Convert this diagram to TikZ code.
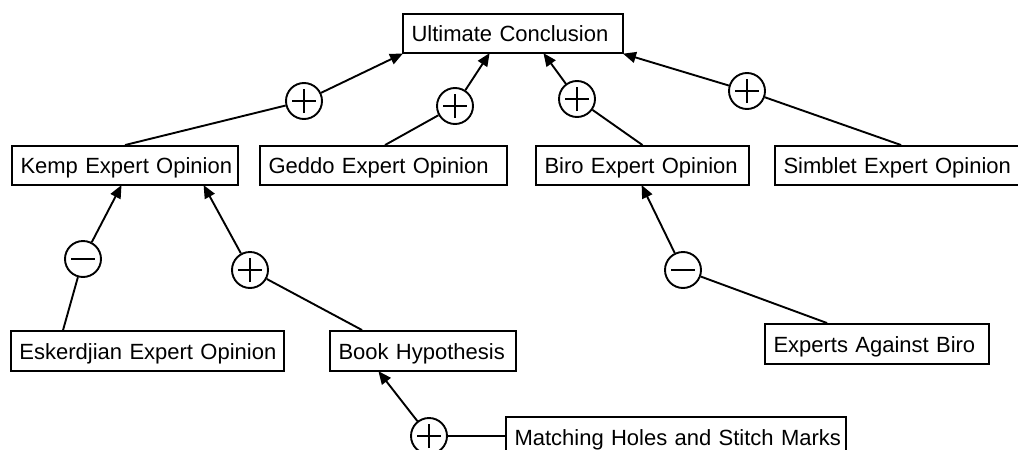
\documentclass[tikz,border=0pt]{standalone}
\usepackage{fontspec}
\setmainfont{Liberation Sans}
\usetikzlibrary{arrows.meta,calc}
\tikzset{
  argbox/.style={draw, line width=1.9pt, fill=white, inner xsep=8.5pt, inner ysep=0pt,
    minimum height=39pt, text height=16pt, text depth=0pt, align=left,
    font=\fontsize{22}{26}\selectfont},
  sign/.style={draw, circle, line width=1.9pt, fill=white, minimum size=36pt, inner sep=0pt},
  plus/.style={sign, path picture={
    \draw[line width=2.2pt] ([xshift=-12pt]path picture bounding box.center) -- ([xshift=12pt]path picture bounding box.center);
    \draw[line width=2.2pt] ([yshift=-12pt]path picture bounding box.center) -- ([yshift=12pt]path picture bounding box.center);}},
  minus/.style={sign, path picture={
    \draw[line width=2.2pt] ([xshift=-12pt]path picture bounding box.center) -- ([xshift=12pt]path picture bounding box.center);}},
  link/.style={line width=1.9pt},
  arr/.style={line width=1.9pt, -{Triangle[length=13pt,width=11pt]}, shorten >=-1pt},
}
\begin{document}
\begin{tikzpicture}[x=1pt,y=-1pt]
\useasboundingbox (0,0) rectangle (1018,450);
\clip (0,0) rectangle (1018,450);
% boxes
\node[argbox, text width=203pt] (uc) at (513,33.5) {\mbox{Ultimate Conclusion}};
\node[argbox, text width=209pt] (kemp) at (125,165.5) {\mbox{Kemp Expert Opinion}};
\node[argbox, text width=230pt] (geddo) at (383.5,165.5) {\mbox{Geddo Expert Opinion}};
\node[argbox, text width=196pt] (biro) at (642.5,165.5) {\mbox{Biro Expert Opinion}};
\node[argbox, text width=228pt] (simblet) at (897.5,165.5) {\mbox{Simblet Expert Opinion}};
\node[argbox, text width=256pt, minimum height=40pt] (esk) at (147.5,351) {\mbox{Eskerdjian Expert Opinion}};
\node[argbox, text width=169pt, minimum height=40pt] (book) at (423,351) {\mbox{Book Hypothesis}};
\node[argbox, text width=207pt, minimum height=40pt] (experts) at (877,344) {\mbox{Experts Against Biro}};
\node[argbox, text width=323pt, minimum height=40pt] (match) at (676,437) {\mbox{Matching Holes and Stitch Marks}};
% sign circles
\node[plus] (c1) at (304,101) {};
\node[plus] (c2) at (455,106) {};
\node[plus] (c3) at (577,99) {};
\node[plus] (c4) at (747,91) {};
\node[minus] (c5) at (83,259) {};
\node[plus] (c6) at (250,270) {};
\node[minus] (c7) at (683,270) {};
\node[plus] (c8) at (429,436) {};
% connectors
\draw[link] (kemp.north) -- (c1);
\draw[arr] (c1) -- (uc.south west);
\draw[link] ([xshift=1.5pt]geddo.north) -- (c2);
\draw[arr] (c2) -- ([xshift=87pt]uc.south west);
\draw[link] (biro.north) -- (c3);
\draw[arr] (c3) -- ([xshift=142pt]uc.south west);
\draw[link] ([xshift=127pt]simblet.north west) -- (c4);
\draw[arr] (c4) -- (uc.south east);
\draw[link] ([xshift=53pt]esk.north west) -- (c5);
\draw[arr] (c5) -- ([xshift=110pt]kemp.south west);
\draw[link] ([xshift=33pt]book.north west) -- (c6);
\draw[arr] (c6) -- ([xshift=193pt]kemp.south west);
\draw[link] ([xshift=63pt]experts.north west) -- (c7);
\draw[arr] (c7) -- ([xshift=107pt]biro.south west);
\draw[link] (match.west |- c8) -- (c8);
\draw[arr] (c8) -- ([xshift=50pt]book.south west);
\end{tikzpicture}
\end{document}
